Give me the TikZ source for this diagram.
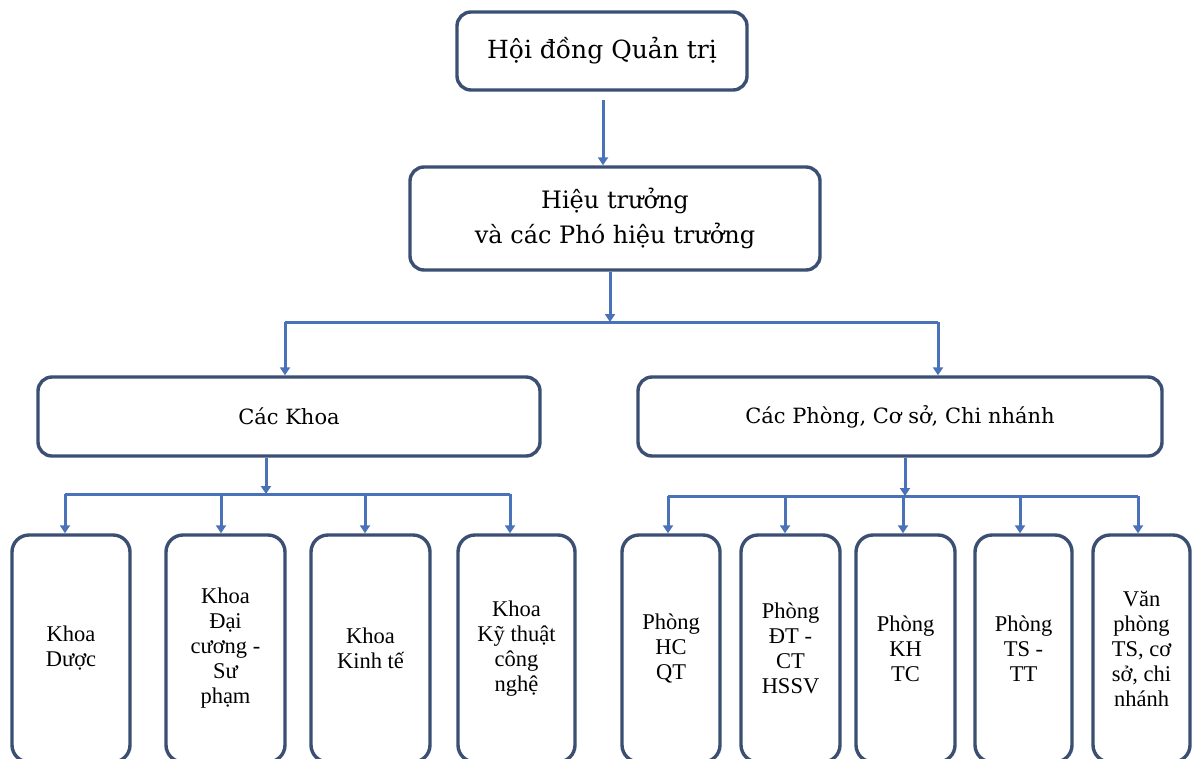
\documentclass[tikz,border=0pt]{standalone}
\usepackage{fontspec}
\setmainfont{Liberation Serif}
\newfontfamily\topfont{DejaVu Serif}
\usetikzlibrary{arrows.meta}
\definecolor{boxline}{HTML}{3A4F72}
\definecolor{conn}{HTML}{4A72B8}
\tikzset{
  box/.style={draw=boxline, line width=3.4pt, rounded corners=14pt, align=center, inner sep=2pt},
  topbox/.style={box, font=\topfont\fontsize{24}{35}\selectfont},
  midbox/.style={box, font=\topfont\fontsize{21}{30}\selectfont},
  smallbox/.style={box, rounded corners=17pt, minimum height=227pt, font=\fontsize{22.5}{25}\selectfont},
  line/.style={draw=conn, line width=3pt},
  arr/.style={line, -{Triangle[width=10pt,length=8pt]}}
}
\begin{document}
\begin{tikzpicture}[x=1pt,y=-1pt]
\useasboundingbox (0,0) rectangle (1198,758);
\fill[white] (0,0) rectangle (1198,758);
\begin{scope}
\clip (0,0) rectangle (1198,758);
% top boxes
\node[topbox, font=\topfont\fontsize{25}{35}\selectfont, minimum width=290pt, minimum height=78pt] (hdqt) at (602,51) {Hội đồng Quản trị};
\node[topbox, minimum width=410pt, minimum height=103pt] (ht) at (615,218.5) {Hiệu trưởng\\và các Phó hiệu trưởng};
\node[midbox, minimum width=502pt, minimum height=79pt] (ck) at (289,416.5) {Các Khoa};
\node[midbox, minimum width=524pt, minimum height=79pt] (cp) at (900,416.5) {Các Phòng, Cơ sở, Chi nhánh};
% bottom left boxes
\node[smallbox, minimum width=118pt] (k1) at (71,648.5) {Khoa\\Dược};
\node[smallbox, minimum width=119pt] (k2) at (225.5,648.5) {Khoa\\Đại\\cương -\\Sư\\phạm};
\node[smallbox, minimum width=119pt] (k3) at (370.5,648.5) {Khoa\\Kinh tế};
\node[smallbox, minimum width=117pt] (k4) at (516.5,648.5) {Khoa\\Kỹ thuật\\công\\nghệ};
% bottom right boxes
\node[smallbox, minimum width=98pt] (p1) at (671,648.5) {Phòng\\HC\\QT};
\node[smallbox, minimum width=99pt] (p2) at (790.5,648.5) {Phòng\\ĐT -\\CT\\HSSV};
\node[smallbox, minimum width=99pt] (p3) at (905.5,648.5) {Phòng\\KH\\TC};
\node[smallbox, minimum width=97pt] (p4) at (1023.5,648.5) {Phòng\\TS -\\TT};
\node[smallbox, minimum width=97pt] (p5) at (1141.5,648.5) {Văn\\phòng\\TS, cơ\\sở, chi\\nhánh};
\end{scope}
% junction coordinates
\coordinate (a0) at (603,100);
\coordinate (j1) at (610,322);
\coordinate (jl) at (285,322);
\coordinate (jr) at (938,322);
\coordinate (k0) at (266,494);
\coordinate (kl) at (65,494);
\coordinate (kr) at (510,494);
\coordinate (p0) at (905,496);
\coordinate (pl) at (668,496);
\coordinate (pr) at (1138,496);
\coordinate (k2t) at (221,494);
\coordinate (k3t) at (365,494);
\coordinate (p2t) at (785,496);
\coordinate (p3t) at (903,496);
\coordinate (p4t) at (1020,496);
% connectors
\draw[arr] (a0) -- (a0 |- ht.north);
\draw[arr] (j1 |- ht.south) -- (j1);
\draw[line] (jl) -- (jr);
\draw[arr] (jl) -- (jl |- ck.north);
\draw[arr] (jr) -- (jr |- cp.north);
\draw[arr] (k0 |- ck.south) -- (k0);
\draw[line] (kl) -- (kr);
\draw[arr] (kl) -- (kl |- k1.north);
\draw[arr] (k2t) -- (k2t |- k2.north);
\draw[arr] (k3t) -- (k3t |- k3.north);
\draw[arr] (kr) -- (kr |- k4.north);
\draw[arr] (p0 |- cp.south) -- (p0);
\draw[line] (pl) -- (pr);
\draw[arr] (pl) -- (pl |- p1.north);
\draw[arr] (p2t) -- (p2t |- p2.north);
\draw[arr] (p3t) -- (p3t |- p3.north);
\draw[arr] (p4t) -- (p4t |- p4.north);
\draw[arr] (pr) -- (pr |- p5.north);
\end{tikzpicture}
\end{document}
